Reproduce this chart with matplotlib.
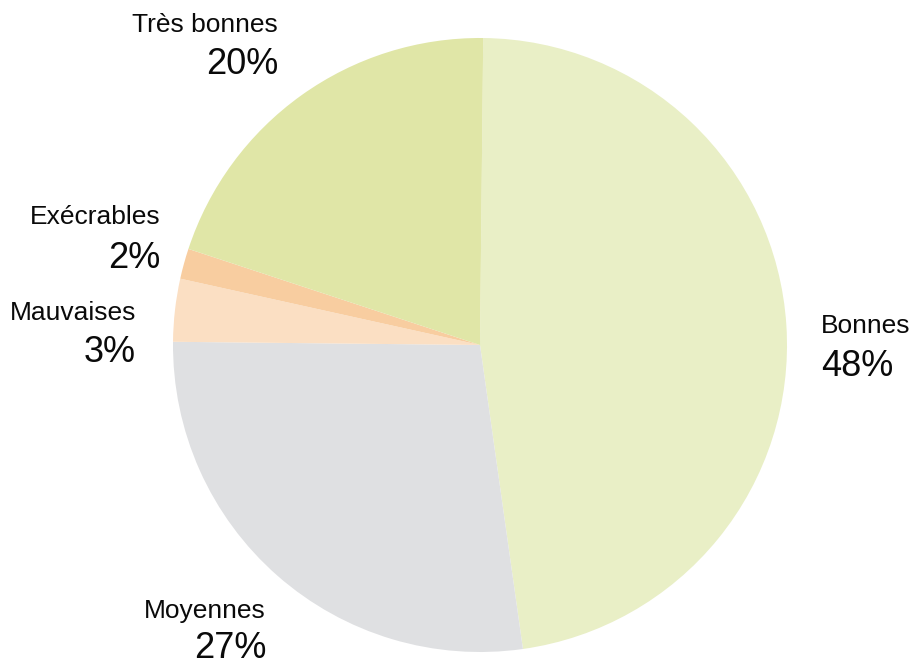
import matplotlib.pyplot as plt

plt.rcParams['font.family'] = ['Liberation Sans', 'DejaVu Sans']

categories = ['Bonnes', 'Moyennes', 'Mauvaises', 'Exécrables', 'Très bonnes']
shares = [47.6, 27.4, 3.3, 1.6, 20.1]
colors = ['#E9EFC6', '#DFE0E2', '#FBDFC3', '#F8CDA0', '#E0E6A7']

# label anchors in pixels (x, y of name line, y of percent line, alignment)
label_pos = [
    (821, 326, 366, 'left'),
    (266, 611, 649, 'right'),
    (136, 313, 352, 'right'),
    (160, 217, 258, 'right'),
    (278, 25, 65, 'right'),
]

W, H = 915, 666
CX, CY, R = 480, 345, 307


def to_data(px, py):
    return (px - CX) / R, (CY - py) / R


fig = plt.figure(figsize=(W / 100, H / 100), dpi=100)
ax = fig.add_axes([0, 0, 1, 1])
ax.pie(shares, colors=colors, startangle=89.4, counterclock=False,
       radius=1, center=(0, 0), wedgeprops=dict(linewidth=0))
ax.set_xlim(-CX / R, (W - CX) / R)
ax.set_ylim(-(H - CY) / R, CY / R)
ax.set_aspect('auto')
ax.axis('off')

for name, val, (px, py1, py2, ha) in zip(categories, shares, label_pos):
    x, y1 = to_data(px, py1)
    _, y2 = to_data(px, py2)
    ax.text(x, y1, name, ha=ha, va='center', fontsize=19, color='#0a0a0a')
    ax.text(x, y2, f"{val:.0f}%", ha=ha, va='center', fontsize=26, color='#0a0a0a')

fig.savefig('out.png', dpi=100)
